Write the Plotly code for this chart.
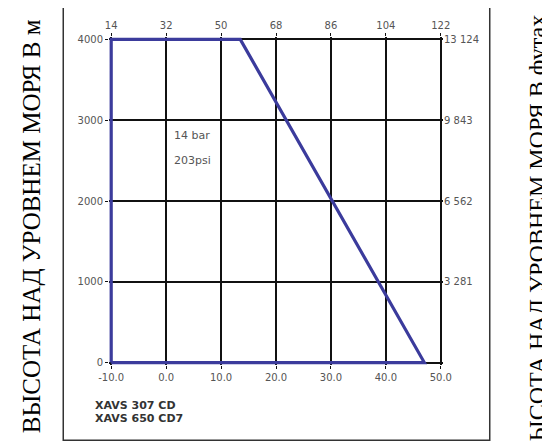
import plotly.graph_objects as go

# Axis tick values
temp_c_ticks = [-10, 0, 10, 20, 30, 40, 50]
temp_c_labels = ["-10.0", "0.0", "10.0", "20.0", "30.0", "40.0", "50.0"]
temp_f_ticks = [14, 32, 50, 68, 86, 104, 122]
alt_m_ticks = [0, 1000, 2000, 3000, 4000]
alt_ft_ticks = [3281, 6562, 9843, 13124]
alt_ft_labels = ["3 281", "6 562", "9 843", "13 124"]

# Operating envelope (temperature °C vs altitude m)
curve_temp_c = [-10, -10, 13.5, 47, -10]
curve_alt_m = [0, 4000, 4000, 0, 0]

# Axis ranges (slightly padded so the envelope edges are not clipped)
x_range = [-10.4, 50.4]
y_range = [-30, 4030]
x2_range = [32 + 1.8 * v for v in x_range]
y2_range = [3.281 * v for v in y_range]

W, H = 550, 442
OFF = 8  # page offset of the figure inside the browser window
PX_PER_C = 5.5
PX_PER_M = 0.081
PL = 111 + (x_range[0] + 10) * PX_PER_C
PR = 441 + (x_range[1] - 50) * PX_PER_C
PT = 39 - (y_range[1] - 4000) * PX_PER_M
PB = 363 - y_range[0] * PX_PER_M
L, T = PL - OFF, PT - OFF
R, B = W - (PR - OFF), H - (PB - OFF)
pw, ph = PR - PL, PB - PT


def px(x):
    return (x - PL) / pw


def py(y):
    return (PB - y) / ph


tick_font = dict(family="DejaVu Sans", size=10, color="#555")

fig = go.Figure()
fig.add_trace(go.Scatter(
    x=curve_temp_c, y=curve_alt_m, mode="lines", cliponaxis=False,
    line=dict(color="#3b3b9c", width=3.2), xaxis="x", yaxis="y",
    showlegend=False, hoverinfo="skip"))
fig.add_trace(go.Scatter(
    x=[temp_f_ticks[0]], y=[alt_ft_ticks[0]], mode="markers",
    marker=dict(opacity=0), xaxis="x2", yaxis="y2",
    showlegend=False, hoverinfo="skip"))

axis_common = dict(showgrid=True, gridcolor="#111", gridwidth=1.5,
                   zeroline=False, ticks="outside", ticklen=3,
                   tickcolor="#111", tickfont=tick_font,
                   showline=False)

fig.update_layout(
    width=W, height=H,
    margin=dict(l=L, r=R, t=T, b=B),
    paper_bgcolor="white", plot_bgcolor="white",
    xaxis=dict(range=x_range, tickvals=temp_c_ticks, ticktext=temp_c_labels,
               **axis_common),
    yaxis=dict(range=y_range, tickvals=alt_m_ticks, **axis_common),
    xaxis2=dict(range=x2_range, tickvals=temp_f_ticks, overlaying="x",
                side="top", anchor="y", showgrid=False, zeroline=False,
                ticks="outside", ticklen=3, tickcolor="#111",
                tickfont=tick_font),
    yaxis2=dict(range=y2_range, tickvals=alt_ft_ticks, ticktext=alt_ft_labels,
                overlaying="y", side="right", anchor="x", showgrid=False,
                zeroline=False, ticks="", tickfont=tick_font),
    shapes=[dict(type="rect", xref="paper", yref="paper",
                 x0=px(63), x1=px(490), y0=py(441), y1=py(4),
                 line=dict(color="#333", width=1.5), layer="below")],
    annotations=[
        dict(x=1.1, y=2815, xref="x", yref="y", text="14 bar", showarrow=False,
             xanchor="left", yanchor="middle",
             font=dict(family="DejaVu Sans", size=11, color="#555")),
        dict(x=1.1, y=2506, xref="x", yref="y", text="203psi", showarrow=False,
             xanchor="left", yanchor="middle",
             font=dict(family="DejaVu Sans", size=11, color="#555")),
        dict(x=px(93), y=py(406), xref="paper", yref="paper",
             text="<b>XAVS 307 CD</b>", showarrow=False,
             xanchor="left", yanchor="middle",
             font=dict(family="DejaVu Sans", size=11, color="#333")),
        dict(x=px(93), y=py(419), xref="paper", yref="paper",
             text="<b>XAVS 650 CD7</b>", showarrow=False,
             xanchor="left", yanchor="middle",
             font=dict(family="DejaVu Sans", size=11, color="#333")),
        dict(x=px(32), y=py(226), xref="paper", yref="paper",
             text="ВЫСОТА НАД УРОВНЕМ МОРЯ В м", showarrow=False,
             textangle=-90, xanchor="center", yanchor="middle",
             font=dict(family="Liberation Serif", size=25, color="#000")),
        dict(x=px(538), y=py(13), xref="paper", yref="paper",
             text="ВЫСОТА НАД УРОВНЕМ МОРЯ В футах", showarrow=False,
             textangle=-90, xanchor="center", yanchor="top",
             font=dict(family="Liberation Serif", size=24, color="#000")),
    ],
)

fig.write_html("out.html")
